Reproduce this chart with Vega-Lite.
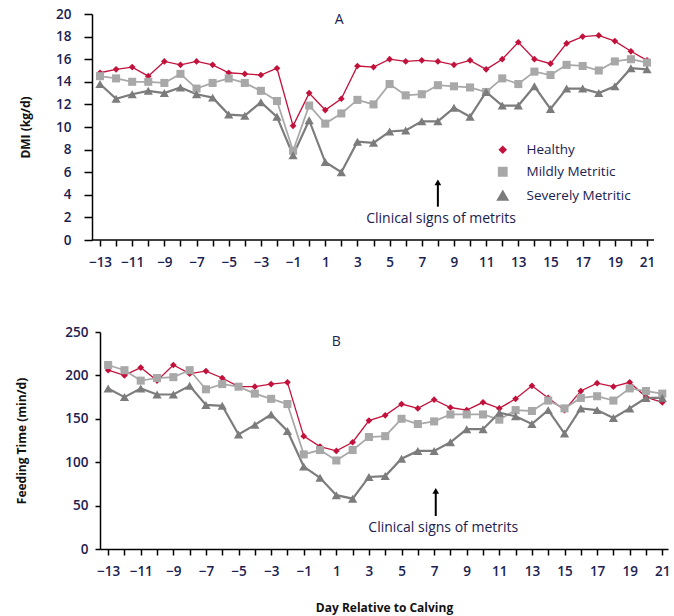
{
  "$schema": "https://vega.github.io/schema/vega-lite/v6.json",
  "padding": {"left": 15, "top": 7, "right": 2, "bottom": 2},
  "background": "white",
  "config": {
    "view": {"stroke": null},
    "font": "Open Sans",
    "axis": {
      "grid": false,
      "domainColor": "#000000",
      "domainWidth": 1.5,
      "tickColor": "#000000",
      "tickWidth": 1.5,
      "tickSize": 5,
      "labelFont": "Open Sans",
      "labelFontSize": 13.5,
      "labelFontWeight": 600,
      "labelColor": "#1a2150",
      "titleFont": "Open Sans",
      "titleFontSize": 12,
      "titleFontWeight": "bold",
      "titleColor": "#111111",
      "labelFlush": false,
      "labelOverlap": false
    },
    "text": {"font": "Open Sans", "fontSize": 14, "color": "#1a2150"}
  },
  "datasets": {
    "dmi": [
      {"day": -13, "Healthy": 14.8, "Mildly Metritic": 14.5, "Severely Metritic": 13.8},
      {"day": -12, "Healthy": 15.1, "Mildly Metritic": 14.3, "Severely Metritic": 12.5},
      {"day": -11, "Healthy": 15.3, "Mildly Metritic": 14.0, "Severely Metritic": 12.9},
      {"day": -10, "Healthy": 14.5, "Mildly Metritic": 14.0, "Severely Metritic": 13.2},
      {"day": -9, "Healthy": 15.8, "Mildly Metritic": 13.9, "Severely Metritic": 13.0},
      {"day": -8, "Healthy": 15.5, "Mildly Metritic": 14.7, "Severely Metritic": 13.5},
      {"day": -7, "Healthy": 15.8, "Mildly Metritic": 13.4, "Severely Metritic": 12.9},
      {"day": -6, "Healthy": 15.5, "Mildly Metritic": 13.9, "Severely Metritic": 12.6},
      {"day": -5, "Healthy": 14.8, "Mildly Metritic": 14.3, "Severely Metritic": 11.1},
      {"day": -4, "Healthy": 14.7, "Mildly Metritic": 13.9, "Severely Metritic": 11.0},
      {"day": -3, "Healthy": 14.6, "Mildly Metritic": 13.2, "Severely Metritic": 12.2},
      {"day": -2, "Healthy": 15.2, "Mildly Metritic": 12.3, "Severely Metritic": 10.9},
      {"day": -1, "Healthy": 10.1, "Mildly Metritic": 7.9, "Severely Metritic": 7.5},
      {"day": 0, "Healthy": 13.0, "Mildly Metritic": 11.9, "Severely Metritic": 10.6},
      {"day": 1, "Healthy": 11.5, "Mildly Metritic": 10.3, "Severely Metritic": 6.9},
      {"day": 2, "Healthy": 12.5, "Mildly Metritic": 11.2, "Severely Metritic": 6.0},
      {"day": 3, "Healthy": 15.4, "Mildly Metritic": 12.4, "Severely Metritic": 8.7},
      {"day": 4, "Healthy": 15.3, "Mildly Metritic": 12.0, "Severely Metritic": 8.6},
      {"day": 5, "Healthy": 16.0, "Mildly Metritic": 13.8, "Severely Metritic": 9.6},
      {"day": 6, "Healthy": 15.8, "Mildly Metritic": 12.8, "Severely Metritic": 9.7},
      {"day": 7, "Healthy": 15.9, "Mildly Metritic": 12.9, "Severely Metritic": 10.5},
      {"day": 8, "Healthy": 15.8, "Mildly Metritic": 13.7, "Severely Metritic": 10.5},
      {"day": 9, "Healthy": 15.5, "Mildly Metritic": 13.6, "Severely Metritic": 11.7},
      {"day": 10, "Healthy": 15.9, "Mildly Metritic": 13.5, "Severely Metritic": 10.9},
      {"day": 11, "Healthy": 15.1, "Mildly Metritic": 13.1, "Severely Metritic": 13.1},
      {"day": 12, "Healthy": 16.0, "Mildly Metritic": 14.3, "Severely Metritic": 11.9},
      {"day": 13, "Healthy": 17.5, "Mildly Metritic": 13.8, "Severely Metritic": 11.9},
      {"day": 14, "Healthy": 16.0, "Mildly Metritic": 14.9, "Severely Metritic": 13.6},
      {"day": 15, "Healthy": 15.6, "Mildly Metritic": 14.6, "Severely Metritic": 11.6},
      {"day": 16, "Healthy": 17.4, "Mildly Metritic": 15.5, "Severely Metritic": 13.4},
      {"day": 17, "Healthy": 18.0, "Mildly Metritic": 15.4, "Severely Metritic": 13.4},
      {"day": 18, "Healthy": 18.1, "Mildly Metritic": 15.0, "Severely Metritic": 13.0},
      {"day": 19, "Healthy": 17.6, "Mildly Metritic": 15.8, "Severely Metritic": 13.6},
      {"day": 20, "Healthy": 16.7, "Mildly Metritic": 16.0, "Severely Metritic": 15.2},
      {"day": 21, "Healthy": 15.9, "Mildly Metritic": 15.7, "Severely Metritic": 15.1}
    ],
    "ft": [
      {"day": -13, "Healthy": 206, "Mildly Metritic": 212, "Severely Metritic": 185},
      {"day": -12, "Healthy": 200, "Mildly Metritic": 206, "Severely Metritic": 175},
      {"day": -11, "Healthy": 209, "Mildly Metritic": 194, "Severely Metritic": 185},
      {"day": -10, "Healthy": 194, "Mildly Metritic": 197, "Severely Metritic": 178},
      {"day": -9, "Healthy": 212, "Mildly Metritic": 198, "Severely Metritic": 178},
      {"day": -8, "Healthy": 202, "Mildly Metritic": 206, "Severely Metritic": 188},
      {"day": -7, "Healthy": 205, "Mildly Metritic": 184, "Severely Metritic": 166},
      {"day": -6, "Healthy": 197, "Mildly Metritic": 190, "Severely Metritic": 165},
      {"day": -5, "Healthy": 187, "Mildly Metritic": 187, "Severely Metritic": 132},
      {"day": -4, "Healthy": 187, "Mildly Metritic": 179, "Severely Metritic": 143},
      {"day": -3, "Healthy": 190, "Mildly Metritic": 173, "Severely Metritic": 155},
      {"day": -2, "Healthy": 192, "Mildly Metritic": 167, "Severely Metritic": 136},
      {"day": -1, "Healthy": 130, "Mildly Metritic": 109, "Severely Metritic": 95},
      {"day": 0, "Healthy": 118, "Mildly Metritic": 114, "Severely Metritic": 82},
      {"day": 1, "Healthy": 113, "Mildly Metritic": 102, "Severely Metritic": 62},
      {"day": 2, "Healthy": 123, "Mildly Metritic": 114, "Severely Metritic": 58},
      {"day": 3, "Healthy": 148, "Mildly Metritic": 129, "Severely Metritic": 83},
      {"day": 4, "Healthy": 154, "Mildly Metritic": 130, "Severely Metritic": 84},
      {"day": 5, "Healthy": 167, "Mildly Metritic": 150, "Severely Metritic": 104},
      {"day": 6, "Healthy": 162, "Mildly Metritic": 144, "Severely Metritic": 113},
      {"day": 7, "Healthy": 172, "Mildly Metritic": 147, "Severely Metritic": 113},
      {"day": 8, "Healthy": 163, "Mildly Metritic": 155, "Severely Metritic": 123},
      {"day": 9, "Healthy": 160, "Mildly Metritic": 155, "Severely Metritic": 138},
      {"day": 10, "Healthy": 169, "Mildly Metritic": 155, "Severely Metritic": 138},
      {"day": 11, "Healthy": 162, "Mildly Metritic": 149, "Severely Metritic": 157},
      {"day": 12, "Healthy": 173, "Mildly Metritic": 160, "Severely Metritic": 153},
      {"day": 13, "Healthy": 188, "Mildly Metritic": 159, "Severely Metritic": 144},
      {"day": 14, "Healthy": 174, "Mildly Metritic": 171, "Severely Metritic": 160},
      {"day": 15, "Healthy": 160, "Mildly Metritic": 162, "Severely Metritic": 133},
      {"day": 16, "Healthy": 182, "Mildly Metritic": 174, "Severely Metritic": 162},
      {"day": 17, "Healthy": 191, "Mildly Metritic": 176, "Severely Metritic": 160},
      {"day": 18, "Healthy": 187, "Mildly Metritic": 171, "Severely Metritic": 151},
      {"day": 19, "Healthy": 192, "Mildly Metritic": 185, "Severely Metritic": 162},
      {"day": 20, "Healthy": 175, "Mildly Metritic": 182, "Severely Metritic": 174},
      {"day": 21, "Healthy": 169, "Mildly Metritic": 179, "Severely Metritic": 174}
    ],
    "baseA": [{"start": -13.5, "end": 21.433, "value": 0}],
    "arrowA": [{"day": 8, "low": 2.95, "high": 5.1}],
    "arrowB": [{"day": 7.1, "low": 38, "high": 67}],
    "textA": [
      {"day": 8.2, "value": 1.85, "label": "Clinical signs of metrits"},
      {"day": 1.86, "value": 19.5, "label": "A"}
    ],
    "textB": [
      {"day": 7.56, "value": 24.5, "label": "Clinical signs of metrits"},
      {"day": 1.0, "value": 239, "label": "B"}
    ]
  },
  "vconcat": [
    {
      "width": 554,
      "height": 226,
      "layer": [
        {
          "data": {"name": "dmi"},
          "transform": [
            {"fold": ["Healthy", "Mildly Metritic", "Severely Metritic"], "as": ["group", "value"]},
            {"calculate": "datum.group", "as": "series"}
          ],
          "encoding": {
            "x": {
              "field": "day", "type": "quantitative",
              "scale": {"domain": [-13, 21.433], "nice": false, "zero": false},
              "axis": {
                "title": null,
                "domain": false,
                "values": [-13,-12,-11,-10,-9,-8,-7,-6,-5,-4,-3,-2,-1,0,1,2,3,4,5,6,7,8,9,10,11,12,13,14,15,16,17,18,19,20,21],
                "tickCount": 100,
                "format": "d",
                "labelExpr": "datum.value % 2 != 0 ? datum.label : ''",
                "labelOverlap": false,
                "tickSize": 6,
                "labelPadding": 9
              }
            },
            "y": {
              "field": "value", "type": "quantitative",
              "scale": {"domain": [0, 20], "nice": false},
              "axis": {"title": "DMI (kg/d)", "offset": 8, "values": [0,2,4,6,8,10,12,14,16,18,20], "tickCount": 100, "format": "d", "labelOverlap": false, "tickSize": 8, "labelPadding": 13, "titlePadding": 23.5}
            },
            "color": {
              "field": "group", "type": "nominal",
              "scale": {"domain": ["Healthy", "Mildly Metritic", "Severely Metritic"], "range": ["#c2123c", "#a8a8a8", "#7c7c7c"]},
              "legend": {
                "title": null, "orient": "none", "legendX": 396, "legendY": 129,
                "symbolSize": 400, "labelOffset": 17, "rowPadding": 7,
                "labelFont": "Open Sans", "labelFontSize": 13.5, "labelColor": "#1a2150",
                "encode": {"symbols": {"update": {
                  "shape": {"signal": "datum.value === 'Healthy' ? 'M-1.85,-0.065L1.85,-0.065L1.85,0.065L-1.85,0.065ZM0,-0.38L0.38,0L0,0.38L-0.38,0Z' : datum.value === 'Mildly Metritic' ? 'M-1.85,-0.11L1.85,-0.11L1.85,0.11L-1.85,0.11ZM-0.42,-0.42L0.42,-0.42L0.42,0.42L-0.42,0.42Z' : 'M-1.85,-0.08L1.85,-0.08L1.85,0.08L-1.85,0.08ZM0,-0.5L0.48,0.36L-0.48,0.36Z'"}
                }}}
              }
            }
          },
          "layer": [
            {
              "mark": {"type": "line"},
              "encoding": {
                "strokeWidth": {"field": "series", "type": "nominal", "scale": {"domain": ["Healthy", "Mildly Metritic", "Severely Metritic"], "range": [1.3, 2.2, 1.6]}, "legend": null}
              }
            },
            {
              "mark": {"type": "point", "filled": true, "opacity": 1},
              "encoding": {
                "shape": {"field": "series", "type": "nominal", "scale": {"domain": ["Healthy", "Mildly Metritic", "Severely Metritic"], "range": ["diamond", "square", "triangle-up"]}, "legend": null},
                "size": {"field": "series", "type": "nominal", "scale": {"domain": ["Healthy", "Mildly Metritic", "Severely Metritic"], "range": [45, 85, 75]}, "legend": null}
              }
            }
          ]
        },
        {
          "data": {"name": "baseA"},
          "mark": {"type": "rule", "strokeWidth": 1.5, "color": "#000000"},
          "encoding": {
            "x": {"field": "start", "type": "quantitative"},
            "x2": {"field": "end"},
            "y": {"field": "value", "type": "quantitative"}
          }
        },
        {
          "data": {"name": "arrowA"},
          "mark": {"type": "rule", "strokeWidth": 2, "color": "#000000"},
          "encoding": {
            "x": {"field": "day", "type": "quantitative"},
            "y": {"field": "low", "type": "quantitative"},
            "y2": {"field": "high"}
          }
        },
        {
          "data": {"name": "arrowA"},
          "mark": {"type": "point", "shape": "triangle-up", "filled": true, "color": "#000000", "size": 45, "opacity": 1},
          "encoding": {
            "x": {"field": "day", "type": "quantitative"},
            "y": {"field": "high", "type": "quantitative"}
          }
        },
        {
          "data": {"name": "textA"},
          "mark": {"type": "text"},
          "encoding": {
            "x": {"field": "day", "type": "quantitative"},
            "y": {"field": "value", "type": "quantitative"},
            "text": {"field": "label"}
          }
        }
      ]
    },
    {
      "width": 568,
      "height": 217,
      "layer": [
        {
          "data": {"name": "ft"},
          "transform": [
            {"fold": ["Healthy", "Mildly Metritic", "Severely Metritic"], "as": ["group", "value"]},
            {"calculate": "datum.group", "as": "series"}
          ],
          "encoding": {
            "x": {
              "field": "day", "type": "quantitative",
              "scale": {"domain": [-13.5, 21.35], "nice": false, "zero": false},
              "axis": {
                "title": "Day Relative to Calving",
                "values": [-13,-12,-11,-10,-9,-8,-7,-6,-5,-4,-3,-2,-1,0,1,2,3,4,5,6,7,8,9,10,11,12,13,14,15,16,17,18,19,20,21],
                "tickCount": 100,
                "format": "d",
                "labelExpr": "datum.value % 2 != 0 ? datum.label : ''",
                "labelOverlap": false,
                "tickSize": 6,
                "labelPadding": 9,
                "titlePadding": 25
              }
            },
            "y": {
              "field": "value", "type": "quantitative",
              "scale": {"domain": [0, 250], "nice": false},
              "axis": {"title": "Feeding Time (min/d)", "values": [0,50,100,150,200,250], "tickCount": 100, "format": "d", "labelOverlap": false, "tickSize": 5, "labelPadding": 7, "titlePadding": 36}
            },
            "color": {"field": "group", "type": "nominal", "legend": null}
          },
          "layer": [
            {
              "mark": {"type": "line"},
              "encoding": {
                "strokeWidth": {"field": "series", "type": "nominal", "legend": null}
              }
            },
            {
              "mark": {"type": "point", "filled": true, "opacity": 1},
              "encoding": {
                "shape": {"field": "series", "type": "nominal", "legend": null},
                "size": {"field": "series", "type": "nominal", "legend": null}
              }
            }
          ]
        },
        {
          "data": {"name": "arrowB"},
          "mark": {"type": "rule", "strokeWidth": 2, "color": "#000000"},
          "encoding": {
            "x": {"field": "day", "type": "quantitative"},
            "y": {"field": "low", "type": "quantitative"},
            "y2": {"field": "high"}
          }
        },
        {
          "data": {"name": "arrowB"},
          "mark": {"type": "point", "shape": "triangle-up", "filled": true, "color": "#000000", "size": 45, "opacity": 1},
          "encoding": {
            "x": {"field": "day", "type": "quantitative"},
            "y": {"field": "high", "type": "quantitative"}
          }
        },
        {
          "data": {"name": "textB"},
          "mark": {"type": "text"},
          "encoding": {
            "x": {"field": "day", "type": "quantitative"},
            "y": {"field": "value", "type": "quantitative"},
            "text": {"field": "label"}
          }
        }
      ]
    }
  ],
  "spacing": 56
}
